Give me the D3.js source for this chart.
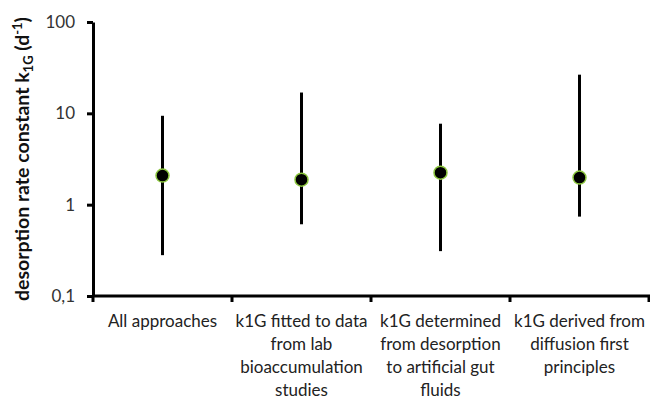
<!DOCTYPE html>
<html>
<head>
<meta charset="utf-8">
<script src="https://cdn.jsdelivr.net/npm/d3@7"></script>
<style>
  body { margin: 0; background: #fff; }
  text { font-family: Lato, "Open Sans", sans-serif; }
</style>
</head>
<body>
<script>
// categories and values
const categories = [
  ["All approaches"],
  ["k1G fitted to data", "from lab", "bioaccumulation", "studies"],
  ["k1G determined", "from desorption", "to artificial gut", "fluids"],
  ["k1G derived from", "diffusion first", "principles"]
];
const medians = [2.08, 1.88, 2.24, 1.98];
const lows = [0.28, 0.61, 0.31, 0.74];
const highs = [9.4, 16.9, 7.7, 26.5];
const yTicks = [0.1, 1, 10, 100];
const yTickLabels = ["0,1", "1", "10", "100"];

makeChart();

function makeChart() {
    const width = 650, height = 399;
    const margin = {left: 93, right: 0, top: 22, bottom: 103};

    const svg = d3.select("body").append("svg")
        .attr("width", width)
        .attr("height", height);

    const x = d3.scaleBand()
        .domain(d3.range(categories.length))
        .range([margin.left, width - 1]);

    const y = d3.scaleLog()
        .domain([0.1, 100])
        .range([height - margin.bottom, margin.top]);

    // whiskers
    svg.append("g").selectAll("line")
        .data(medians)
        .join("line")
        .attr("x1", (d, i) => x(i) + x.bandwidth() / 2)
        .attr("x2", (d, i) => x(i) + x.bandwidth() / 2)
        .attr("y1", (d, i) => y(lows[i]))
        .attr("y2", (d, i) => y(highs[i]))
        .attr("stroke", "#000")
        .attr("stroke-width", 3);

    // points
    svg.append("g").selectAll("circle")
        .data(medians)
        .join("circle")
        .attr("cx", (d, i) => x(i) + x.bandwidth() / 2)
        .attr("cy", d => y(d))
        .attr("r", 6.5)
        .attr("fill", "#000")
        .attr("stroke", "#8cc63f")
        .attr("stroke-width", 1.5);

    // y axis
    const yAxis = svg.append("g")
        .attr("transform", `translate(${margin.left},0)`)
        .call(d3.axisLeft(y).tickValues(yTicks).tickFormat((d, i) => yTickLabels[i]).tickSize(6).tickSizeOuter(0));
    yAxis.select(".domain").attr("stroke-width", 3);
    yAxis.selectAll(".tick line").attr("stroke-width", 3);
    yAxis.selectAll(".tick text").attr("font-size", 17).attr("fill", "#333").attr("x", -18);

    // x axis
    const xAxis = svg.append("g")
        .attr("transform", `translate(0,${y(0.1)})`);
    xAxis.append("line")
        .attr("x1", margin.left).attr("x2", width)
        .attr("stroke", "#000").attr("stroke-width", 3);
    xAxis.selectAll(".xt")
        .data(d3.range(categories.length + 1))
        .join("line")
        .attr("class", "xt")
        .attr("x1", i => margin.left + i * x.bandwidth())
        .attr("x2", i => margin.left + i * x.bandwidth())
        .attr("y1", 0).attr("y2", 6)
        .attr("stroke", "#000").attr("stroke-width", 3);

    // category labels
    const lab = svg.append("g").selectAll("text")
        .data(categories)
        .join("text")
        .attr("text-anchor", "middle")
        .attr("font-size", 17)
        .attr("fill", "#222");
    lab.selectAll("tspan")
        .data((d, i) => d.map(s => ({s, i})))
        .join("tspan")
        .attr("x", d => x(d.i) + x.bandwidth() / 2)
        .attr("y", (d, j) => y(0.1) + 31 + j * 23)
        .text(d => d.s);

    // y title
    const title = svg.append("text")
        .attr("transform", `translate(29,${(margin.top + y(0.1)) / 2}) rotate(-90)`)
        .attr("text-anchor", "middle")
        .attr("font-size", 19.5)
        .attr("font-weight", "bold")
        .attr("fill", "#111");
    title.append("tspan").text("desorption rate constant k");
    title.append("tspan").attr("font-size", 13).attr("dy", 4).text("1G");
    title.append("tspan").attr("dy", -4).text(" (d");
    title.append("tspan").attr("font-size", 13).attr("dy", -7).text("-1");
    title.append("tspan").attr("dy", 7).text(")");

    return svg.node();
}
</script>
</body>
</html>
